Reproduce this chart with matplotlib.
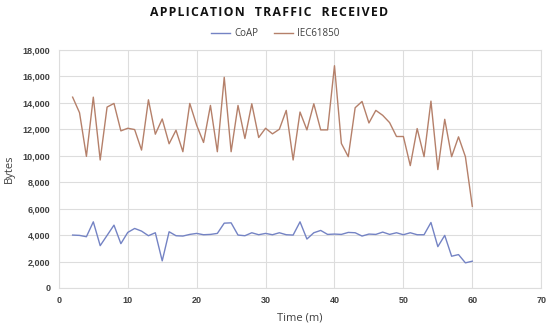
import matplotlib
matplotlib.use('Agg')
import matplotlib.pyplot as plt

# Time (m) samples
time_m = list(range(2, 61))

coap = [4000, 3975, 3875, 5000, 3200, 3975, 4750, 3350, 4200, 4500,
        4300, 3950, 4175, 2050, 4250, 3950, 3925, 4050, 4125, 4025,
        4050, 4125, 4900, 4925, 4000, 3950, 4175, 4025, 4125, 4025,
        4175, 4025, 4000, 5000, 3700, 4175, 4350, 4050, 4075, 4050,
        4200, 4175, 3925, 4075, 4050, 4225, 4050, 4175, 4025, 4175,
        4025, 4025, 4950, 3125, 3975, 2400, 2525, 1900, 2025]

iec61850 = [14425, 13250, 9950, 14425, 9675, 13675, 13950, 11875, 12075, 11975,
            10425, 14225, 11625, 12775, 10900, 11925, 10300, 13950, 12300, 11000,
            13800, 10300, 15925, 10300, 13800, 11300, 13925, 11375, 12075, 11650,
            12000, 13425, 9675, 13300, 11950, 13925, 11950, 11950, 16800, 10925,
            9925, 13625, 14100, 12475, 13425, 13050, 12500, 11450, 11450, 9250,
            12050, 9925, 14125, 8950, 12750, 9925, 11425, 9925, 6175]

x_ticks = list(range(0, 71, 10))
y_ticks = list(range(0, 18001, 2000))

plt.rcParams['font.family'] = ['Open Sans', 'DejaVu Sans']

fig = plt.figure(figsize=(5.5, 3.28), dpi=100)
ax = fig.add_axes([0.107, 0.122, 0.877, 0.726])

ax.plot(time_m, coap, color='#7483c4', linewidth=1.0, label='CoAP')
ax.plot(time_m, iec61850, color='#b5806a', linewidth=1.0, label='IEC61850')

ax.set_xlim(0, 70)
ax.set_ylim(0, 18000)
ax.set_xticks(x_ticks)
ax.set_yticks(y_ticks)
ax.set_yticklabels(['{:,}'.format(v) for v in y_ticks])
ax.grid(True, color='#dddddd', linewidth=0.8)
ax.set_axisbelow(True)
for s in ax.spines.values():
    s.set_color('#dddddd')
    s.set_linewidth(0.8)
ax.tick_params(length=0, labelsize=6.5, colors='#404040', pad=6)
for lab in ax.get_xticklabels() + ax.get_yticklabels():
    lab.set_fontweight('bold')
    lab.set_family(['Liberation Sans', 'DejaVu Sans'])

ax.set_xlabel('Time (m)', fontsize=8, color='#404040', labelpad=5)
ax.set_ylabel('Bytes', fontsize=8, color='#404040', labelpad=6)

# spaced-out title letters like the original
title = 'APPLICATION  TRAFFIC  RECEIVED'
fig.text(0.49, 0.962, '\u200a'.join(title), ha='center', va='center',
         fontsize=8.8, fontweight='bold', color='#111111')

fig.legend(loc='center', bbox_to_anchor=(0.5, 0.897), ncol=2, frameon=False,
           fontsize=7, handlelength=2.0, columnspacing=1.6, handletextpad=0.4,
           labelcolor='#404040')

fig.savefig('out.png', dpi=100)
